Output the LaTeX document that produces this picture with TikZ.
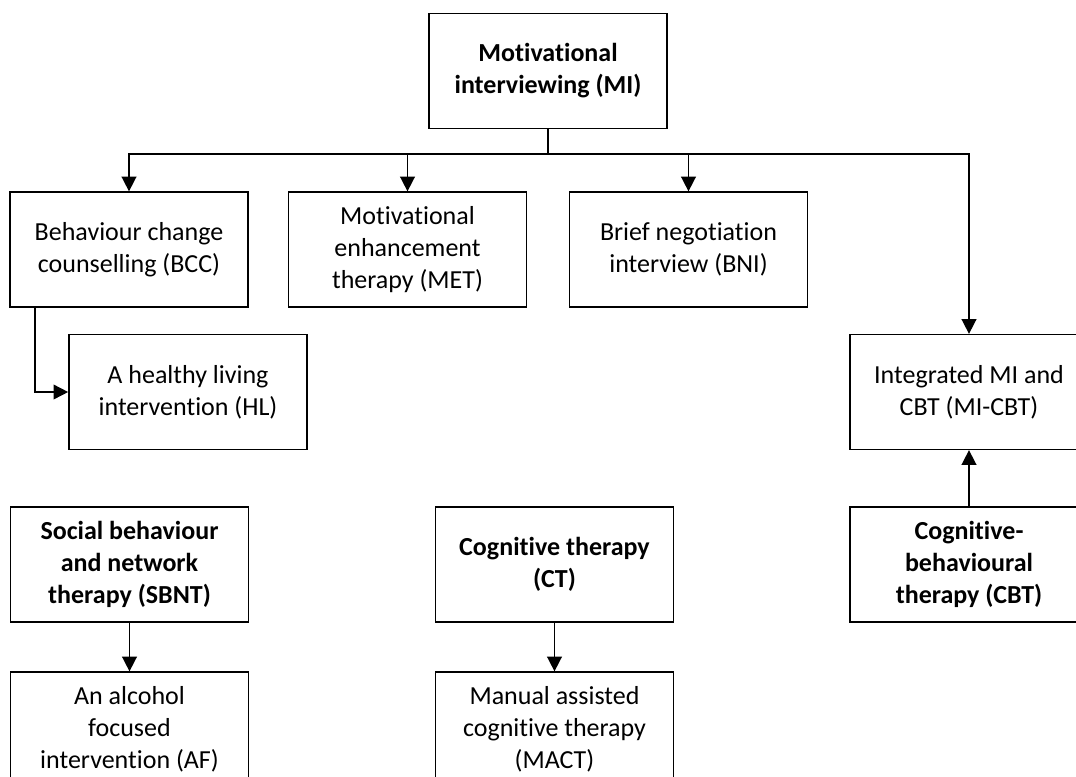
\documentclass[tikz,border=0pt]{standalone}
\usepackage{fontspec}
\setmainfont{Carlito}[RawFeature={-liga;-clig;-calt;-dlig;-rlig}]
\usetikzlibrary{arrows.meta,calc}
\begin{document}
\begin{tikzpicture}[x=0.75pt,y=-0.75pt,
  box/.style={draw=black,line width=1.2pt,minimum width=178.5pt,minimum height=86pt,
    inner sep=0pt,align=center,font=\fontsize{19.5}{24}\selectfont},
  boldbox/.style={box,font=\fontsize{19.5}{24}\selectfont\bfseries},
  conn/.style={line width=1.2pt},
  arr/.style={conn,-{Triangle[width=11pt,length=11pt]}}]
\useasboundingbox (0,0) rectangle (1076,776);
\clip (0,0) rectangle (1076,776);
\fill[white] (0,0) rectangle (1076,776);
\node[boldbox] (MI) at (548,71) {Motivational\\interviewing (MI)};
\node[box] (BCC) at (129,249.5) {Behaviour change\\counselling (BCC)};
\node[box] (MET) at (407.5,249.5) {Motivational\\enhancement\\therapy (MET)};
\node[box] (BNI) at (688.5,249.5) {Brief negotiation\\interview (BNI)};
\node[box] (HL) at (188,392) {A healthy living\\intervention (HL)};
\node[box] (MICBT) at (969,392) {Integrated MI and\\CBT (MI-CBT)};
\node[boldbox] (SBNT) at (129.5,564.5) {Social behaviour\\and network\\therapy (SBNT)};
\node[boldbox] (CT) at (554.5,564.5) {Cognitive therapy\\(CT)};
\node[boldbox] (CBT) at (969,564.5) {Cognitive-\\behavioural\\therapy (CBT)};
\node[box] (AF) at (129.5,729.5) {An alcohol\\focused\\intervention (AF)};
\node[box] (MACT) at (554.5,729.5) {Manual assisted\\cognitive therapy\\(MACT)};
\coordinate (bus) at (548,154);
\coordinate (elbow) at (35,307);
\draw[conn] (MI.south) -- (bus);
\draw[arr] (bus) -| (BCC.north);
\draw[arr] (bus) -| (MICBT.north);
\draw[arr] (MET.north |- bus) -- (MET.north);
\draw[arr] (BNI.north |- bus) -- (BNI.north);
\draw[arr] (elbow) |- (HL.west);
\draw[arr] (SBNT.south) -- (AF.north);
\draw[arr] (CT.south) -- (MACT.north);
\draw[arr] (CBT.north) -- (MICBT.south);
\end{tikzpicture}
\end{document}
